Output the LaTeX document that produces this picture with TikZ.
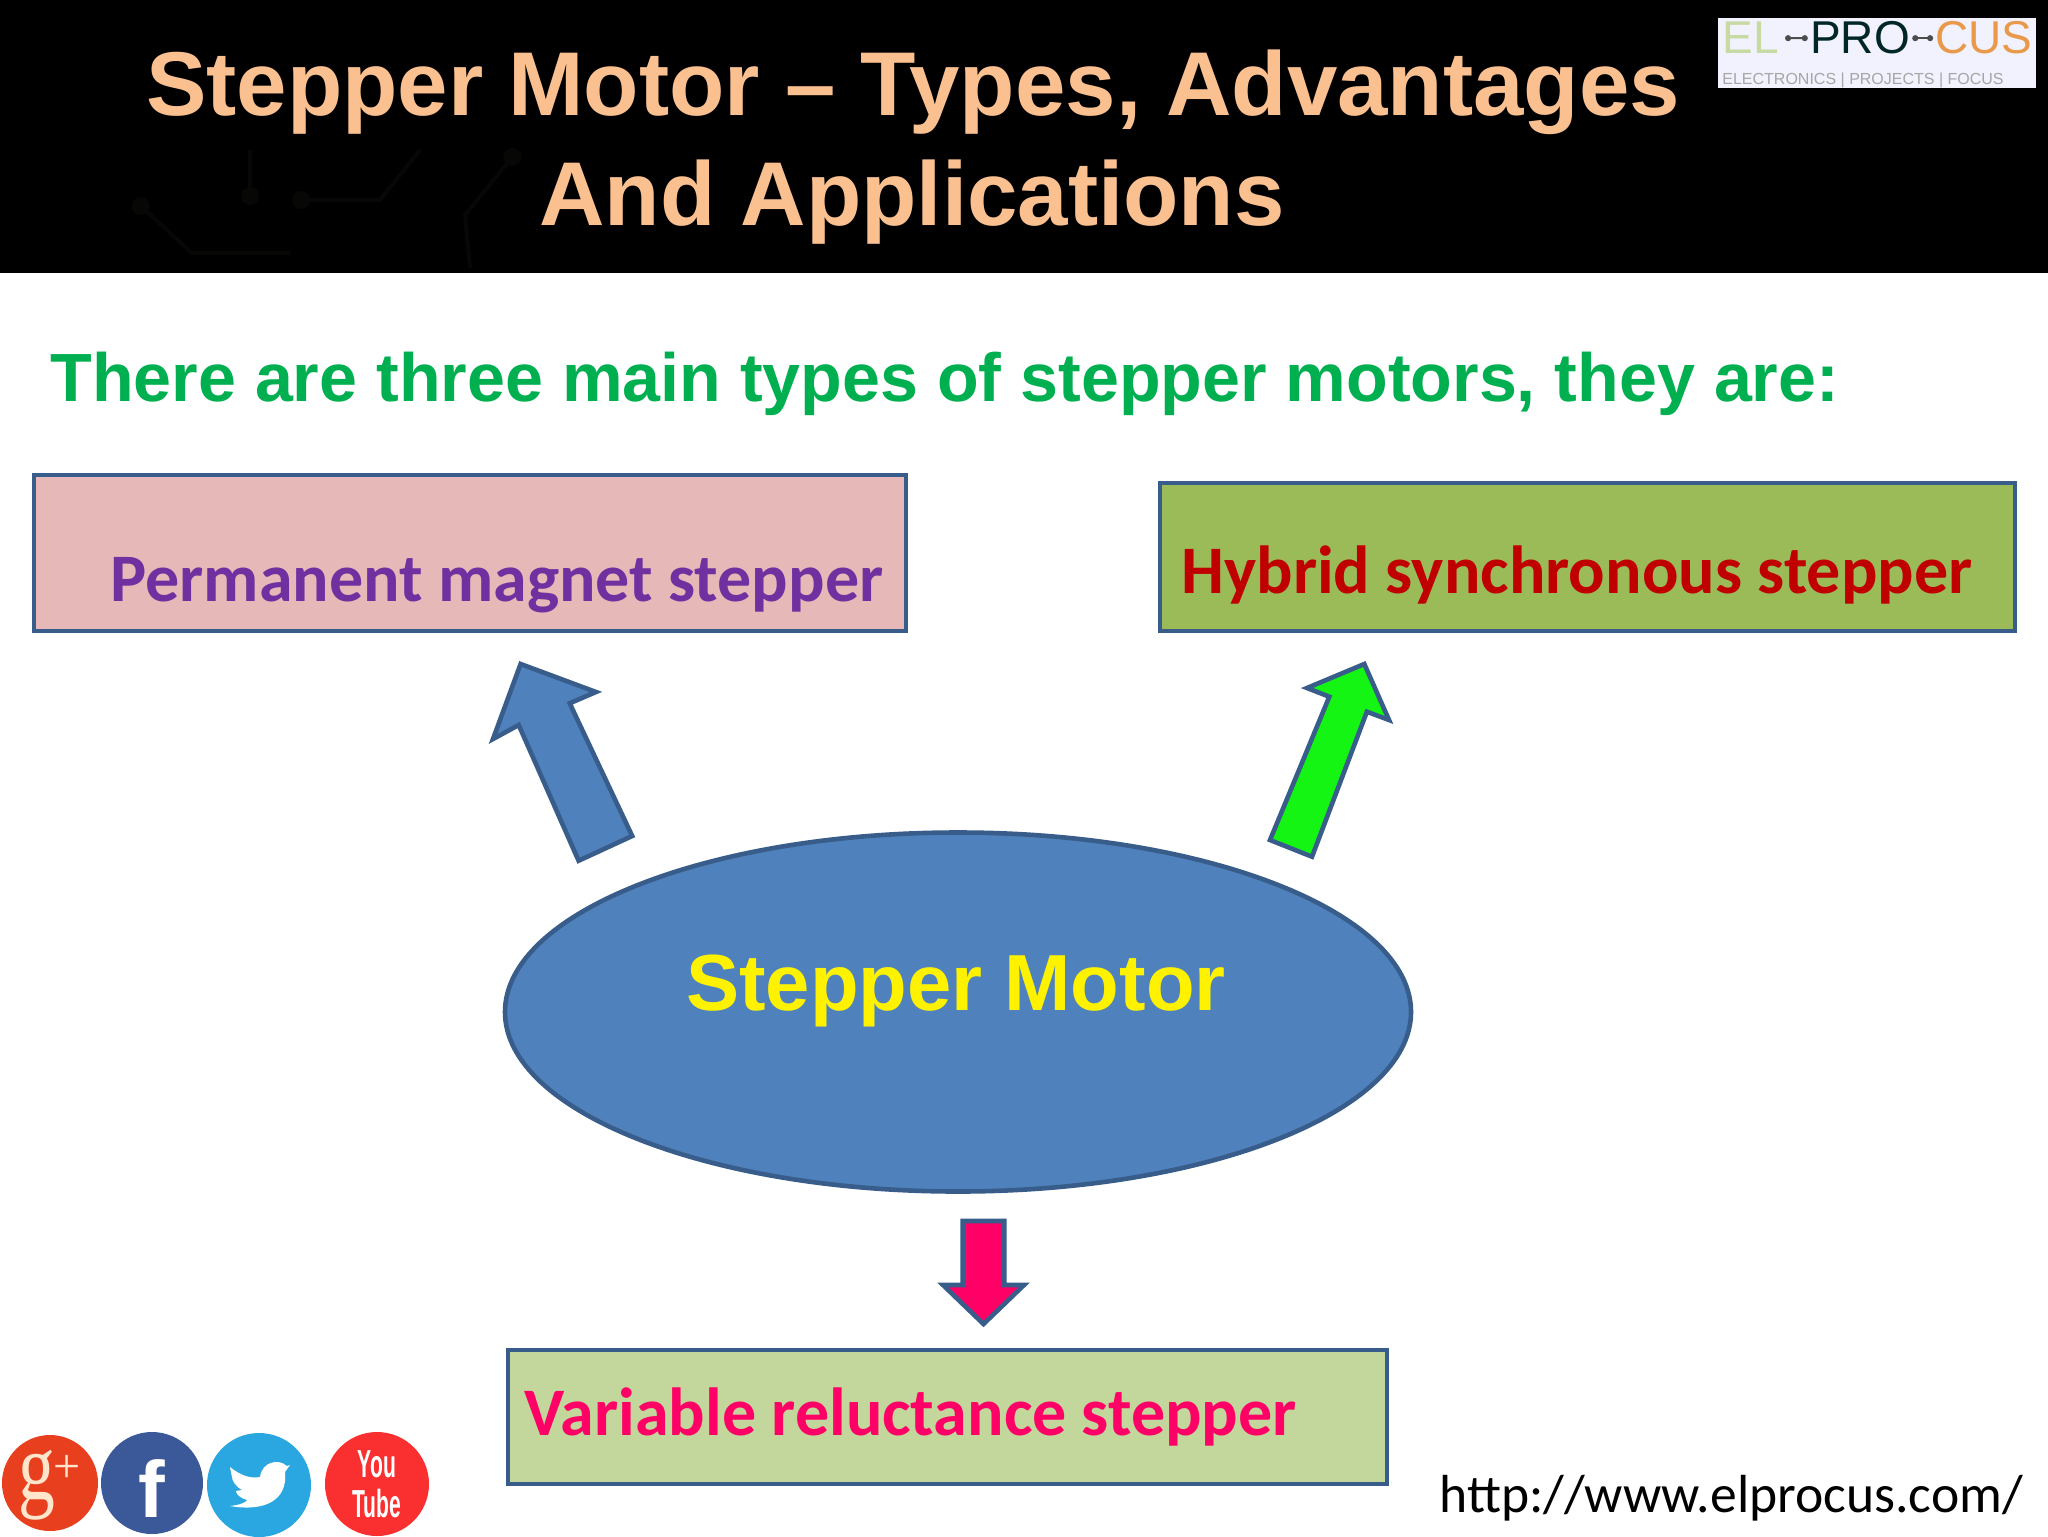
\documentclass[tikz,border=0pt]{standalone}
\usepackage{fontspec}
\setmainfont{Liberation Sans}
\newfontfamily\calibrifont{Carlito}
\newfontfamily\seriffont{Liberation Serif}
\usetikzlibrary{arrows.meta}
\definecolor{TitlePeach}{HTML}{FAC090}
\definecolor{SlideGreen}{HTML}{00B050}
\definecolor{ShapeBlue}{HTML}{4F81BD}
\definecolor{ShapeEdge}{HTML}{385D8A}
\definecolor{PinkFill}{HTML}{E6B9B8}
\definecolor{OliveFill}{HTML}{9BBB59}
\definecolor{PaleOlive}{HTML}{C3D69B}
\definecolor{ArrowGreen}{HTML}{14F514}
\definecolor{HotPink}{HTML}{FF0066}
\definecolor{BoxPurple}{HTML}{7030A0}
\definecolor{BoxRed}{HTML}{C00000}
\definecolor{GplusRed}{HTML}{E8401F}
\definecolor{FbBlue}{HTML}{3B5998}
\definecolor{TwBlue}{HTML}{2AA7E0}
\definecolor{YtRed}{HTML}{FA2F2F}
\definecolor{FaintTrace}{HTML}{070705}
\tikzset{
    typebox/.style={draw=ShapeEdge,line width=2.3pt},
    blockarrow/.style={draw=ShapeEdge,line width=2.3pt,line join=miter},
    boxtext/.style={anchor=base west,inner sep=0,font=\calibrifont\bfseries\fontsize{34}{34}\selectfont},
    iconcircle/.style={circle,inner sep=0,minimum size=#1},
    logotext/.style={inner sep=0,font=\fontsize{23}{23}\selectfont},
    titletext/.style={anchor=base,inner sep=0,text=TitlePeach,font=\bfseries\fontsize{45.3}{45.3}\selectfont},
    trace/.style={draw=FaintTrace,line width=2pt,{Circle[length=9pt]}-}
}

\begin{document}
\begin{tikzpicture}[x=0.5pt,y=-0.5pt]
        \useasboundingbox (0,0) rectangle (2048,1536);
        \fill[white] (0,0) rectangle (2048,1536);
        \fill[black] (0,0) rectangle (2048,273);

        % faint circuit behind the title
        \draw[trace] (134,200) -- (192,253) -- (290,253);
        \draw[trace] (292,200) -- (380,200) -- (420,150);
        \draw[trace] (518,150) -- (465,215) -- (470,268);
        \draw[trace] (250,205) -- (250,150);

        \node[titletext] (titleA) at (913,115) {Stepper Motor -- Types, Advantages};
        \node[titletext] (titleB) at (912,225) {And Applications};

        % logo
        \fill[white!95!blue] (1718,18) rectangle (2036,88);
        \node[logotext,anchor=base west,text=OliveFill!55!white] (logoEL) at (1722,54) {EL};
        \node[logotext,anchor=base,text=black!70!teal] (logoPRO) at (1860,54) {PRO};
        \node[logotext,anchor=base east,text=orange!55!brown!80!white] (logoCUS) at (2033,54) {CUS};
        \draw[black!70,line width=1pt,{Circle[length=3pt]}-{Circle[length=3pt]}] ([xshift=3pt]logoEL.east) -- ([xshift=-1pt]logoPRO.west);
        \draw[black!70,line width=1pt,{Circle[length=3pt]}-{Circle[length=3pt]}] ([xshift=1pt]logoPRO.east) -- ([xshift=-1pt]logoCUS.west);
        \node[anchor=base west,inner sep=0,text=black!35,font=\fontsize{8}{8}\selectfont] (logoTag) at (1722,84) {ELECTRONICS | PROJECTS | FOCUS};

        \node[anchor=base west,inner sep=0,text=SlideGreen,font=\bfseries\fontsize{34.1}{34.1}\selectfont] (intro) at (50,401) {There are three main types of stepper motors, they are:};

        % boxes
        \draw[typebox,fill=PinkFill] (34,475) rectangle (906,631);
        \draw[typebox,fill=OliveFill] (1160,483) rectangle (2015,631);
        \draw[typebox,fill=PaleOlive] (508,1350) rectangle (1387,1484);
        \node[boxtext,text=BoxPurple] (permanent) at (110,601) {Permanent magnet stepper};
        \node[boxtext,text=BoxRed] (hybrid) at (1181,593) {Hybrid synchronous stepper};
        \node[boxtext,text=HotPink] (variable) at (524,1435) {Variable reluctance stepper};

        % ellipse in the middle
        \draw[fill=ShapeBlue,draw=ShapeEdge,line width=2.3pt] (958,1012) ellipse (453 and 179.5);
        \node[anchor=base,inner sep=0,text=yellow,font=\bfseries\fontsize{39.8}{39.8}\selectfont] (motor) at (956,1010) {Stepper Motor};

        % block arrows
        \draw[blockarrow,fill=ShapeBlue] (520.6,664) -- (596,692) -- (569.7,703.3) -- (632.2,836) -- (578.6,860.7) -- (518.7,725) -- (493,739) -- cycle;
        \draw[blockarrow,fill=ArrowGreen] (1364.3,664) -- (1307,688) -- (1329.3,696.7) -- (1270,840) -- (1312,856.7) -- (1366.9,711.7) -- (1389,720) -- cycle;
        \draw[blockarrow,fill=HotPink] (962.6,1221) -- (1004.4,1221) -- (1004.4,1285) -- (1024,1285) -- (983.5,1324) -- (943,1285) -- (962.6,1285) -- cycle;

        % icons
        \node[iconcircle=48pt,fill=GplusRed] (gplus) at (50,1483) {};
        \node[iconcircle=51pt,fill=FbBlue] (facebook) at (152,1483) {};
        \node[iconcircle=52pt,fill=TwBlue] (twitter) at (259,1485) {};
        \node[iconcircle=52pt,fill=YtRed] (youtube) at (377,1484) {};
        \node[inner sep=0,text=white!80!orange,xscale=1.15,yscale=1.5,font=\seriffont\fontsize{32}{32}\selectfont] at (37,1485) {g};
        \node[inner sep=0,text=white!80!orange,font=\seriffont\fontsize{24}{24}\selectfont] at (67,1469) {+};
        \node[inner sep=0,text=white,font=\bfseries\fontsize{40}{40}\selectfont] at (152,1488) {f};
        \fill[white] (230,1467) .. controls (240,1475) and (250,1479) .. (260,1477)
            .. controls (262,1462) and (278,1458) .. (287,1466) -- (290,1465) -- (285,1472)
            .. controls (288,1500) and (265,1512) .. (230,1506) .. controls (240,1505) and (247,1502) .. (247,1500)
            .. controls (240,1498) and (236,1494) .. (236,1491) -- (242,1490)
            .. controls (235,1486) and (232,1480) .. (232,1477) -- cycle;
        \node[inner sep=0,text=white,align=center,font=\bfseries\fontsize{17}{17.5}\selectfont,xscale=0.62,yscale=1.15] at (377,1484) {You\\Tube};

        \node[anchor=base west,inner sep=0,font=\calibrifont\fontsize{26.8}{26.8}\selectfont] (url) at (1439,1512) {http://www.elprocus.com/};
    \end{tikzpicture}
\end{document}
